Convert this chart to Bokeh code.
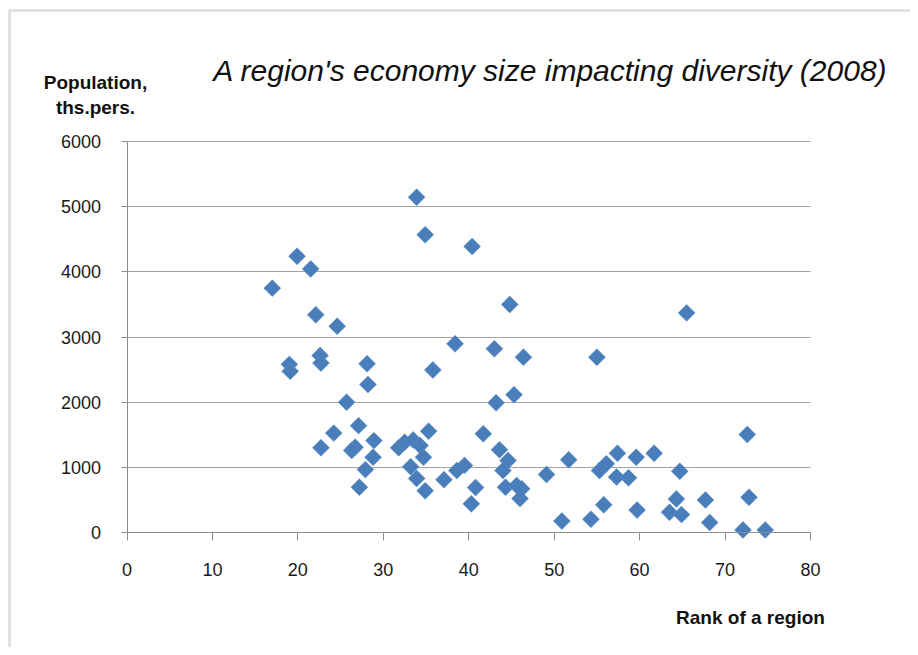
import numpy as np
from bokeh.plotting import figure
from bokeh.models import Range1d, Label, BoxAnnotation, FixedTicker, ColumnDataSource
from bokeh.embed import file_html
from bokeh.resources import INLINE

# ---- data ----
rank = [17.0, 19.9, 21.5, 22.1, 24.6, 19.0, 19.1, 22.6, 22.7, 28.1,
        28.2, 25.7, 27.1, 24.2, 22.7, 26.7, 26.3, 28.9, 28.8, 27.9,
        27.2, 31.8, 32.5, 33.5, 34.3, 34.7, 33.2, 33.9, 34.9, 35.3,
        35.8, 33.9, 34.9, 40.4, 44.8, 38.4, 43.0, 46.4, 43.2, 45.3,
        41.7, 43.6, 44.6, 44.0, 37.1, 38.6, 39.5, 40.8, 40.3, 44.3,
        45.6, 46.2, 46.0, 49.1, 51.7, 50.9, 54.3, 55.0, 65.5, 72.6,
        57.4, 59.6, 61.7, 55.3, 56.1, 57.3, 58.7, 64.7, 55.8, 59.7,
        64.3, 63.5, 64.9, 67.7, 68.2, 72.8, 72.1, 74.7]
population = [3750, 4240, 4045, 3340, 3165, 2580, 2475, 2715, 2600, 2590,
              2270, 2000, 1640, 1525, 1300, 1310, 1260, 1410, 1155, 965,
              695, 1300, 1385, 1420, 1335, 1155, 1010, 830, 640, 1555,
              2495, 5145, 4570, 4390, 3500, 2895, 2820, 2690, 1990, 2115,
              1515, 1270, 1105, 950, 810, 950, 1030, 690, 440, 695,
              720, 670, 520, 890, 1115, 175, 205, 2690, 3370, 1505,
              1215, 1155, 1215, 950, 1055, 850, 840, 940, 425, 345,
              515, 310, 275, 500, 155, 540, 40, 40]
x_ticks = [0, 10, 20, 30, 40, 50, 60, 70, 80]
y_ticks = [0, 1000, 2000, 3000, 4000, 5000, 6000]

title_text = "A region's economy size impacting diversity (2008)"
y_label_lines = ["Population,", "ths.pers."]
x_label_text = "Rank of a region"

FONT = "Liberation Sans"

# ---- layout: canvas size and where the plot area sits (pixels) ----
W, H = 910, 647
PX_X0, PX_X1 = 126.5, 810.0     # pixel column of first / last x tick
PX_Y0, PX_Y1 = 532.0, 141.0     # pixel row of first / last y tick

xa, xb = x_ticks[0], x_ticks[-1]
ya, yb = y_ticks[0], y_ticks[-1]
kx = (PX_X1 - PX_X0) / (xb - xa)
ky = (PX_Y0 - PX_Y1) / (yb - ya)
x_range = Range1d(xa - PX_X0 / kx, xb + (W - PX_X1) / kx)
y_range = Range1d(ya - (H - PX_Y0) / ky, yb + PX_Y1 / ky)

src = ColumnDataSource(dict(rank=rank, population=population))

p = figure(width=W, height=H, output_backend="svg", toolbar_location=None,
           x_range=x_range, y_range=y_range,
           min_border_left=0, min_border_right=0,
           min_border_top=0, min_border_bottom=0)
p.outline_line_color = None
p.background_fill_color = "white"
p.border_fill_color = "white"

# axes placed at the data origin
xax, yax = p.xaxis[0], p.yaxis[0]
xax.fixed_location = ya
yax.fixed_location = xa
xax.bounds = (xa, xb)
yax.bounds = (ya, yb)
for ax in (xax, yax):
    ax.axis_line_color = "#8c8c8c"
    ax.axis_line_width = 1
    ax.major_tick_line_color = "#8c8c8c"
    ax.minor_tick_line_color = None
    ax.major_tick_in = 0
    ax.major_label_text_font = FONT
    ax.major_label_text_font_size = "18px"
    ax.major_label_text_color = "#1a1a1a"
xax.ticker = FixedTicker(ticks=x_ticks)
xax.major_tick_out = 8
xax.major_label_standoff = 22
yax.ticker = FixedTicker(ticks=y_ticks)
yax.major_tick_out = 6
yax.major_label_standoff = 20

p.xgrid.visible = False
g = p.ygrid[0]
g.ticker = FixedTicker(ticks=y_ticks)
g.grid_line_color = "#a3a3a3"
g.grid_line_width = 1
g.bounds = (ya, yb)
if "cross_bounds" in g.properties():
    g.cross_bounds = (xa, xb)
    print("cross_bounds used")
else:
    g.visible = False
    p.segment(x0=[xa] * len(y_ticks), x1=[xb] * len(y_ticks), y0=y_ticks, y1=y_ticks,
              line_color="#a3a3a3", line_width=1)
    print("segments used")

p.scatter("rank", "population", source=src, marker="square", angle=np.pi / 4,
          size=12, fill_color="#4a7ebb", line_color="#5b8cc6", line_width=0.5)

# texts (screen units: from canvas left, from canvas bottom)
def add_text(txt, cx, cy, size, style):
    p.add_layout(Label(x=cx, y=H - cy, x_units="screen", y_units="screen", text=txt,
                       text_font=FONT, text_font_style=style, text_font_size=size,
                       text_align="center", text_baseline="middle", text_color="#111111"))

add_text(title_text, 550, 70, "30px", "italic")
add_text(y_label_lines[0], 95, 82, "19px", "bold")
add_text(y_label_lines[1], 95, 107, "19px", "bold")
add_text(x_label_text, 750, 617, "19px", "bold")

# outer chart-area border (left and top edges visible)
p.add_layout(BoxAnnotation(left=9, right=W + 50, top=H - 10, bottom=-50,
                           left_units="screen", right_units="screen",
                           top_units="screen", bottom_units="screen",
                           fill_color=None, line_color="#8c8c8c", line_width=2.5))

open("out.html", "w").write(file_html(p, INLINE))
